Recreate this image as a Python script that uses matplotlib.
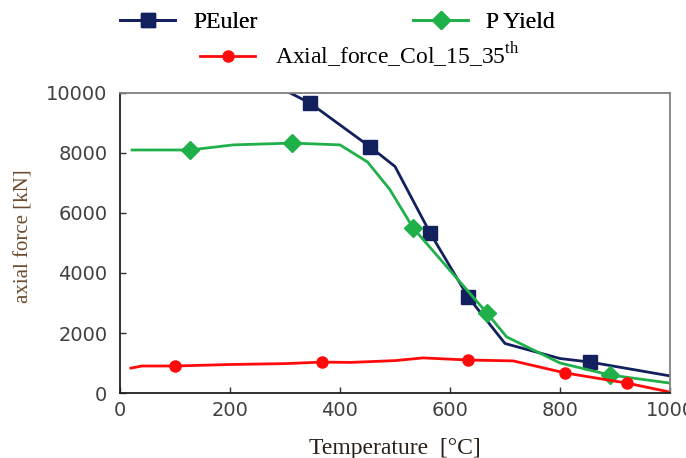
import matplotlib
matplotlib.use("Agg")
import matplotlib.pyplot as plt

plt.rcParams['mathtext.fontset'] = 'custom'
plt.rcParams['mathtext.rm'] = 'Liberation Serif'

# Euler buckling load (kN) vs temperature
temp_euler = [290, 345, 455, 500, 564, 633, 700, 800, 855, 1000]
p_euler = [10180, 9670, 8200, 7550, 5330, 3200, 1650, 1150, 1030, 570]
mark_euler = [1, 2, 4, 5, 8]

# yield load (kN)
temp_yield = [22, 127, 206, 313, 400, 450, 490, 533, 667, 703, 800, 891, 1000]
p_yield = [8100, 8100, 8270, 8330, 8270, 7700, 6800, 5500, 2670, 1870, 1000, 600, 330]
mark_yield = [1, 3, 7, 8, 11]

# axial force in column 15, 35th floor
temp_col = [20, 40, 100, 200, 300, 367, 420, 500, 551, 633, 715, 809, 922, 1000]
f_col = [830, 900, 900, 950, 980, 1030, 1020, 1080, 1170, 1100, 1070, 670, 330, 30]
mark_col = [2, 5, 9, 11, 12]

xticks = [0, 200, 400, 600, 800, 1000]
yticks = [0, 2000, 4000, 6000, 8000, 10000]

navy = '#13205e'
green = '#20b04a'
red = '#ff0a0a'

fig = plt.figure(figsize=(6.86, 4.58), dpi=100)
ax = fig.add_axes([0.1749, 0.1419, 0.8018, 0.6551])

l1, = ax.plot(temp_euler, p_euler, color=navy, lw=2, marker='s', ms=10,
              markevery=mark_euler, label='PEuler')
l2, = ax.plot(temp_yield, p_yield, color=green, lw=2, marker='D', ms=9,
              markevery=mark_yield, label='P Yield')
l3, = ax.plot(temp_col, f_col, color=red, lw=2, marker='o', ms=8,
              markevery=mark_col, label='Axial_force_Col_15_35$^{\\mathrm{th}}$')

ax.set_xlim(0, 1000)
ax.set_ylim(0, 10000)
ax.set_xticks(xticks)
ax.set_yticks(yticks)
ax.tick_params(direction='in', length=4, width=1, labelsize=14,
               labelcolor='#404040', color='#303030')
ax.tick_params(axis='x', pad=6)
ax.tick_params(axis='y', pad=9)

for side in ['left', 'bottom']:
    ax.spines[side].set_color('#202020')
    ax.spines[side].set_linewidth(1.3)
for side in ['top', 'right']:
    ax.spines[side].set_color('#808080')
    ax.spines[side].set_linewidth(1.3)

ax.set_xlabel('Temperature  [°C]', family='Liberation Serif', fontsize=17,
              color='#2a2018', labelpad=13)
ax.set_ylabel('axial force [kN]', family='Liberation Serif', fontsize=15,
              color='#6b4a2e')
ax.yaxis.set_label_coords(-0.158, 0.523)

# legend: two entries on the first row, the column force on the second
legend_font = {'family': 'Liberation Serif', 'size': 17}
leg1 = fig.legend(handles=[l1, l2], loc='center left', ncol=2, frameon=False,
                  bbox_to_anchor=(120 / 686, 1 - 22 / 458), borderpad=0,
                  borderaxespad=0, handlelength=2.33, handletextpad=0.76,
                  columnspacing=6.6, prop=legend_font)
fig.legend(handles=[l3], loc='center left', frameon=False,
           bbox_to_anchor=(200 / 686, 1 - 55 / 458), borderpad=0,
           borderaxespad=0, handlelength=2.33, handletextpad=0.85,
           prop=legend_font)
fig.add_artist(leg1)

fig.savefig('out.png', dpi=100)
